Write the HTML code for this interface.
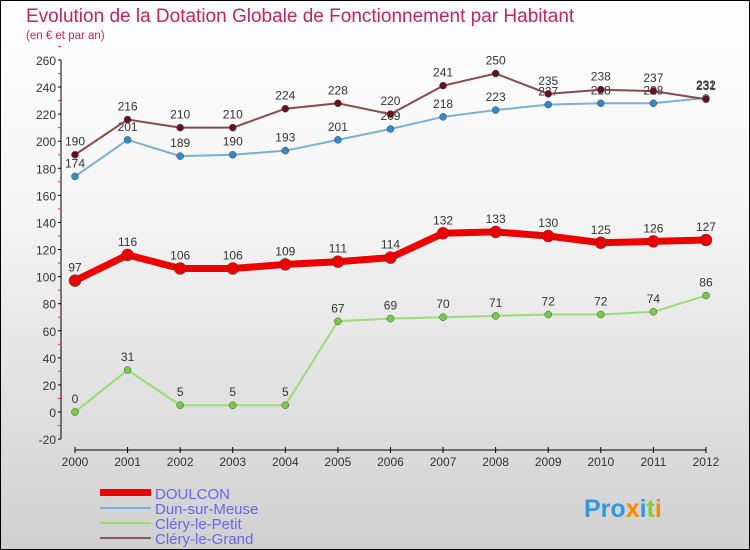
<!DOCTYPE html>
<html><head><meta charset="utf-8"><style>
body{margin:0;}
#c{width:750px;height:550px;position:relative;box-sizing:border-box;border:1px solid #000;background:linear-gradient(#fff 0%,#f4f4f4 40%,#d0d0d0 100%);font-family:"Liberation Sans",sans-serif;overflow:hidden}
</style></head><body>
<div id="c">
<svg width="750" height="550" style="position:absolute;left:-1px;top:-1px" id="svg">
<text x="26" y="22" font-size="19" fill="#c0265a">Evolution de la Dotation Globale de Fonctionnement par Habitant</text>
<text x="26" y="39" font-size="11.5" fill="#c0265a">(en € et par an)</text>
<g id="axes"></g><g id="series"></g>
<g>
<rect x="100" y="489" width="51" height="7" fill="#e00"/>
<text x="155" y="499" font-size="15" fill="#6666ee">DOULCON</text>
<rect x="100" y="507" width="51" height="2" fill="#7aaedb"/>
<text x="155" y="514" font-size="15" fill="#6666ee">Dun-sur-Meuse</text>
<rect x="100" y="522" width="51" height="2" fill="#99dd77"/>
<text x="155" y="529" font-size="15" fill="#6666ee">Cléry-le-Petit</text>
<rect x="100" y="537" width="51" height="2" fill="#8a5a5a"/>
<text x="155" y="544" font-size="15" fill="#6666ee">Cléry-le-Grand</text>
</g>
<text x="584" y="517" font-size="25" font-weight="bold"><tspan fill="#3399dd">Pro</tspan><tspan fill="#ff8800">x</tspan><tspan fill="#3399dd">i</tspan><tspan fill="#88cc33">t</tspan><tspan fill="#ff8800">i</tspan></text>
</svg>
</div>
<script>
const years=[2000,2001,2002,2003,2004,2005,2006,2007,2008,2009,2010,2011,2012];
const doulcon=[97,116,106,106,109,111,114,132,133,130,125,126,127];
const dun=[174,201,189,190,193,201,209,218,223,227,228,228,232];
const petit=[0,31,5,5,5,67,69,70,71,72,72,74,86];
const grand=[190,216,210,210,224,228,220,241,250,235,238,237,231];
const yTicks=[-20,0,20,40,60,80,100,120,140,160,180,200,220,240,260];
const NS="http://www.w3.org/2000/svg";
const X=i=>75+i*52.58, Y=v=>412-v*1.354;
function mk(t,a,p){const e=document.createElementNS(NS,t);for(const k in a)e.setAttribute(k,a[k]);p.appendChild(e);return e;}
const ax=document.getElementById('axes');
const yl=mk('line',{x1:61,y1:60,x2:61,y2:439,stroke:'#000'},ax);


yTicks.forEach(v=>{
 const tk=mk('line',{x1:58,x2:61,y1:Y(v),y2:Y(v),stroke:'#000'},ax);
 
 
 const m=mk('line',{x1:58,x2:61,y1:Y(v+10),y2:Y(v+10),stroke:'#e33'},ax);
 
 
 const t=mk('text',{x:56,y:Y(v)+5,'text-anchor':'end','font-size':12,fill:'#333'},ax);t.textContent=v;
 
 
});
const xl=mk('line',{x1:75,y1:450,x2:706,y2:450,stroke:'#000'},ax);


years.forEach((y,i)=>{
 const tk=mk('line',{x1:X(i),x2:X(i),y1:447,y2:453,stroke:'#000'},ax);
 
 
 const t=mk('text',{x:X(i),y:466,'text-anchor':'middle','font-size':12,fill:'#333'},ax);t.textContent=y;
 
 
});
const sg=document.getElementById('series');
function series(d,name,col,dot,w,r){
 const g=mk('g',{},sg);
 
 
 const l=mk('polyline',{points:d.map((v,i)=>X(i)+','+Y(v)).join(' '),fill:'none',stroke:col,'stroke-width':w},g);
 
 
 d.forEach((v,i)=>{
  const c=mk('circle',{cx:X(i),cy:Y(v),r:r,fill:dot,stroke:'#444','stroke-width':0.5},g);
  
  
  const t=mk('text',{x:X(i),y:Y(v)-9,'text-anchor':'middle','font-size':12,fill:'#333'},g);t.textContent=v;
  
  
 });
}
series(petit,'clery-le-petit','#99dd77','#77cc44',2,3.5);
series(dun,'dun-sur-meuse','#7aaedb','#3388cc',2,3.5);
series(grand,'clery-le-grand','#8a4a4a','#661122',2,3.5);
series(doulcon,'doulcon','#ee0000','#ee0000',7,6);
</script>
</body></html>
